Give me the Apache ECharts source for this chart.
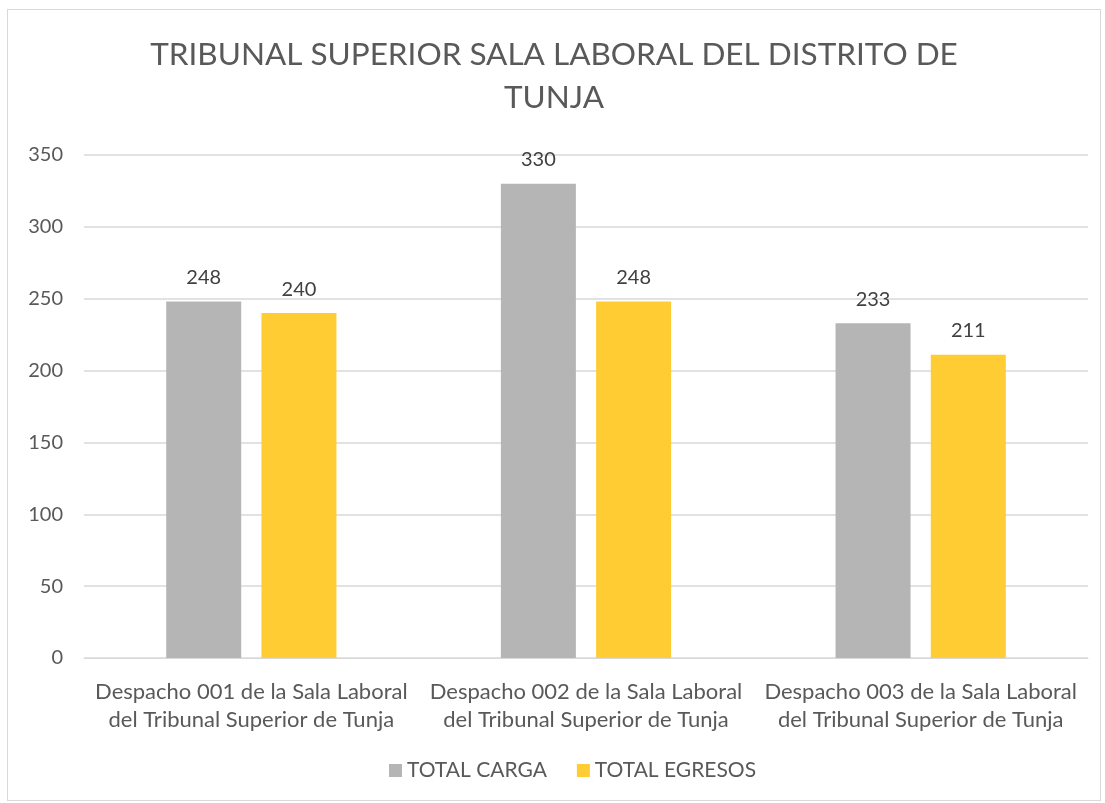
<!DOCTYPE html>
<html>
<head>
<meta charset="utf-8">
<script src="https://cdn.jsdelivr.net/npm/echarts@6/dist/echarts.min.js"></script>
<style>
  html, body { margin: 0; padding: 0; background: #fff; }
  #chart {
    position: absolute; left: 7px; top: 9px;
    width: 1094px; height: 792px;
    border: 1px solid #d9d9d9; box-sizing: border-box;
  }
</style>
</head>
<body>
<div id="chart"></div>
<script>
const categories = [
  'Despacho 001 de la Sala Laboral\ndel Tribunal Superior de Tunja',
  'Despacho 002 de la Sala Laboral\ndel Tribunal Superior de Tunja',
  'Despacho 003 de la Sala Laboral\ndel Tribunal Superior de Tunja'
]
const totalCarga = [248, 330, 233]
const totalEgresos = [240, 248, 211]

const font = 'Lato, "Open Sans", sans-serif'
const chart = echarts.init(document.getElementById('chart'))
chart.setOption({
  textStyle: { fontFamily: font },
  title: {
    text: 'TRIBUNAL SUPERIOR SALA LABORAL DEL DISTRITO DE\nTUNJA',
    left: 'center',
    top: 18,
    textStyle: { fontSize: 31.5, fontWeight: 'normal', color: '#595959', lineHeight: 43, fontFamily: font }
  },
  legend: {
    bottom: 14,
    left: 376,
    itemWidth: 13,
    itemHeight: 13,
    itemGap: 30,
    icon: 'rect',
    textStyle: { fontSize: 21, color: '#595959', fontFamily: font }
  },
  grid: { left: 76, right: 12, top: 145, bottom: 142 },
  xAxis: {
    type: 'category',
    data: categories,
    axisLine: { lineStyle: { color: '#d9d9d9', width: 1 } },
    axisTick: { show: false },
    axisLabel: { fontSize: 22, color: '#595959', lineHeight: 28, margin: 20, interval: 0 }
  },
  yAxis: {
    type: 'value',
    min: 0,
    max: 350,
    interval: 50,
    axisLine: { show: false },
    axisTick: { show: false },
    axisLabel: { fontSize: 20, color: '#595959', margin: 21 },
    splitLine: { lineStyle: { color: '#d9d9d9', width: 1.5 } }
  },
  series: [
    {
      name: 'TOTAL CARGA',
      type: 'bar',
      data: totalCarga,
      barWidth: 75,
      barGap: '27%',
      itemStyle: { color: '#b5b5b5' },
      label: { show: true, position: 'top', distance: 14, fontSize: 20, color: '#404040' }
    },
    {
      name: 'TOTAL EGRESOS',
      type: 'bar',
      data: totalEgresos,
      barWidth: 75,
      itemStyle: { color: '#ffcc33' },
      label: { show: true, position: 'top', distance: 14, fontSize: 20, color: '#404040' }
    }
  ]
})
</script>
</body>
</html>
